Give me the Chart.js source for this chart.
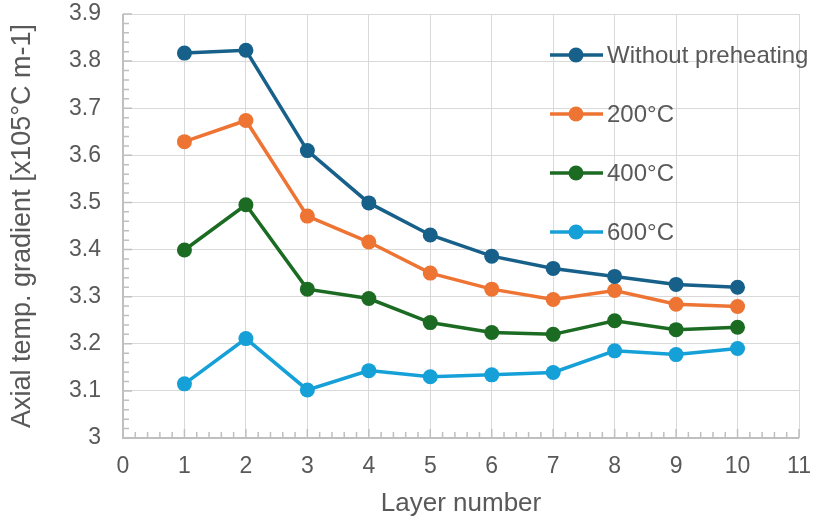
<!DOCTYPE html>
<html>
<head>
<meta charset="utf-8">
<script src="https://cdn.jsdelivr.net/npm/chart.js@4"></script>
<style>
  html,body{margin:0;padding:0;background:#fff}
  #wrap{width:813px;height:519px}
</style>
</head>
<body>
<div id="wrap"><canvas id="c"></canvas></div>
<script>
const layers=[1,2,3,4,5,6,7,8,9,10];
const seriesNames=['Without preheating','200°C','400°C','600°C'];
const noPreheat=[3.817,3.823,3.610,3.499,3.431,3.386,3.360,3.343,3.326,3.320];
const t200=[3.629,3.674,3.471,3.416,3.350,3.316,3.294,3.313,3.284,3.279];
const t400=[3.399,3.495,3.316,3.296,3.245,3.224,3.220,3.249,3.230,3.235];
const t600=[3.115,3.211,3.102,3.143,3.130,3.134,3.139,3.185,3.177,3.190];
const colors=['#17608a','#ee7434','#1c6b23','#16a0d8'];

const ink='#595959';
const fontFam='"Liberation Sans", Arial, sans-serif';

function mk(i,vals){
  return {label:seriesNames[i],data:layers.map((x,k)=>({x,y:vals[k]})),
    borderColor:colors[i],backgroundColor:colors[i],borderWidth:3.5,
    pointRadius:7.5,pointHoverRadius:7.5,pointBorderWidth:0,tension:0};
}

// inward major/minor ticks plus the axis lines
const axisTicks={
  id:'axisTicks',
  beforeDatasetsDraw(chart){
    const {ctx,scales:{x,y},chartArea:a}=chart;
    ctx.save();
    ctx.strokeStyle='#bfbfbf';
    ctx.lineWidth=1.5;
    ctx.beginPath();
    for(let v=0;v<=55;v++){
      const px=x.getPixelForValue(v/5);
      const len=v%5===0?9:6;
      ctx.moveTo(px,a.bottom);ctx.lineTo(px,a.bottom-len);
    }
    for(let v=0;v<=45;v++){
      const py=y.getPixelForValue(3+v/50);
      const len=v%5===0?9:6;
      ctx.moveTo(a.left,py);ctx.lineTo(a.left+len,py);
    }
    ctx.stroke();
    ctx.lineWidth=2;
    ctx.beginPath();
    ctx.moveTo(a.left,a.top);ctx.lineTo(a.left,a.bottom);ctx.lineTo(a.right,a.bottom);
    ctx.stroke();
    ctx.restore();
  }
};

const sideLegend={
  id:'sideLegend',
  afterDraw(chart){
    const {ctx}=chart;
    ctx.save();
    ctx.font='24px '+fontFam;
    ctx.textBaseline='middle';
    chart.data.datasets.forEach((ds,i)=>{
      const cy=55+i*59;
      ctx.strokeStyle=ds.borderColor;ctx.lineWidth=3.5;
      ctx.beginPath();ctx.moveTo(550,cy);ctx.lineTo(603,cy);ctx.stroke();
      ctx.fillStyle=ds.borderColor;
      ctx.beginPath();ctx.arc(576,cy,7.5,0,Math.PI*2);ctx.fill();
      ctx.fillStyle=ink;
      ctx.fillText(ds.label,607,cy+1);
    });
    ctx.restore();
  }
};

new Chart(document.getElementById('c'),{
  type:'line',
  data:{datasets:[mk(0,noPreheat),mk(1,t200),mk(2,t400),mk(3,t600)]},
  options:{
    responsive:true,maintainAspectRatio:false,animation:false,
    layout:{padding:{top:2,right:0,left:0,bottom:0}},
    plugins:{legend:{display:false},tooltip:{enabled:false}},
    scales:{
      x:{type:'linear',min:0,max:11,
        ticks:{stepSize:1,color:ink,font:{family:fontFam,size:23},padding:15,maxRotation:0},
        grid:{color:'#d9d9d9',lineWidth:1,drawTicks:false},
        border:{display:false},
        title:{display:true,text:'Layer number',color:ink,font:{family:fontFam,size:26},padding:{top:4,bottom:0}},
        afterFit(s){s.height=81;s.paddingRight=14;s.paddingLeft=0;}
      },
      y:{min:3,max:3.9,
        ticks:{stepSize:0.1,color:ink,font:{family:fontFam,size:23},padding:22,
          callback:v=>Math.round(v*10)/10+''},
        grid:{color:'#d9d9d9',lineWidth:1,drawTicks:false},
        border:{display:false},
        title:{display:true,text:'Axial temp. gradient [x105°C m-1]',color:ink,font:{family:fontFam,size:27},padding:{top:6,bottom:4}},
        afterFit(s){s.width=123;s.paddingTop=14;s.paddingBottom=0;}
      }
    }
  },
  plugins:[axisTicks,sideLegend]
});
</script>
</body>
</html>
